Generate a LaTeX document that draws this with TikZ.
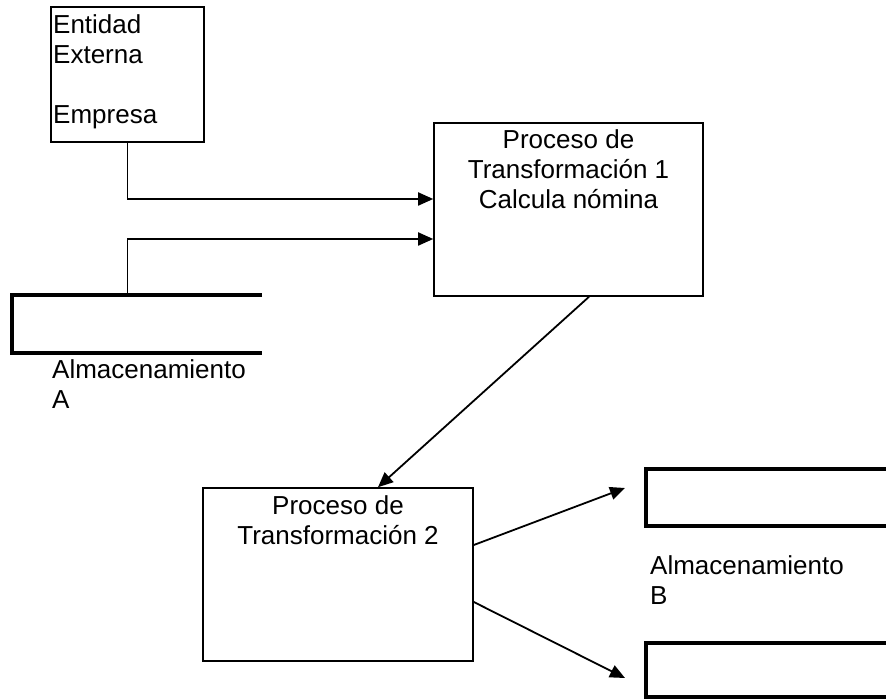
\documentclass[tikz,border=0pt]{standalone}
\usepackage{fontspec}
\setmainfont{Liberation Sans}
\usetikzlibrary{arrows.meta}

\begin{document}
\begin{tikzpicture}[x=1pt, y=-1pt,
  box/.style={draw, line width=1.6pt, inner sep=0pt},
  hidden/.style={inner sep=0pt},
  storeline/.style={line width=3.5pt, line join=miter},
  flow/.style={line width=1.8pt, -{Triangle[length=15pt,width=13pt]}},
  txt/.style={font=\fontsize{26}{30}\selectfont, inner sep=0pt}]

  \useasboundingbox (0,0) rectangle (886,700);

  % external entity
  \node[box, minimum width=153pt, minimum height=135pt] (ent) at (127.4,74.5) {};
  \node[txt, anchor=base west] (ent1) at (53,34) {Entidad};
  \node[txt, anchor=base west] (ent2) at (53,64) {Externa};
  \node[txt, anchor=base west] (ent3) at (53,124) {Empresa};

  % process 1
  \node[box, minimum width=269pt, minimum height=173pt] (p1) at (568.5,209.5) {};
  \node[txt, anchor=base] (p1a) at (568.5,149) {Proceso de};
  \node[txt, anchor=base] (p1b) at (568.5,179) {Transformación 1};
  \node[txt, anchor=base] (p1c) at (568.5,209) {Calcula nómina};

  % process 2
  \node[box, minimum width=270pt, minimum height=173pt] (p2) at (338,574.5) {};
  \node[txt, anchor=base] (p2a) at (338,514) {Proceso de};
  \node[txt, anchor=base] (p2b) at (338,544) {Transformación 2};

  % data store A
  \node[hidden, minimum width=250pt, minimum height=58pt] (sa) at (137,324) {};
  \draw[storeline] (sa.north east) -- (sa.north west) -- (sa.south west) -- (sa.south east);
  \node[txt, anchor=base west] (sa1) at (52,378) {Almacenamiento};
  \node[txt, anchor=base west] (sa2) at (52,408) {A};

  % data store B (upper and lower)
  \node[hidden, minimum width=240pt, minimum height=57pt] (sb1) at (766,497.5) {};
  \draw[storeline] (sb1.north east) -- (sb1.north west) -- (sb1.south west) -- (sb1.south east);
  \node[hidden, minimum width=240pt, minimum height=54pt] (sb2) at (766,670) {};
  \draw[storeline] (sb2.north east) -- (sb2.north west) -- (sb2.south west) -- (sb2.south east);
  \node[txt, anchor=base west] (sb1t) at (650,574) {Almacenamiento};
  \node[txt, anchor=base west] (sb2t) at (650,604) {B};

  % arrow ends in front of store B
  \coordinate (b1in) at (625,488);
  \coordinate (b2in) at (625,678);

  % flows
  \draw[flow] (ent.south) |- ([yshift=10.5pt]p1.west);
  \draw[flow] (sa.north -| ent.south) |- ([yshift=-29.5pt]p1.west);
  \draw[flow] ([xshift=20.5pt]p1.south) -- ([xshift=40pt]p2.north);
  \draw[flow] ([yshift=29.5pt]p2.east) -- (b1in);
  \draw[flow] ([yshift=-27.5pt]p2.east) -- (b2in);
\end{tikzpicture}
\end{document}
